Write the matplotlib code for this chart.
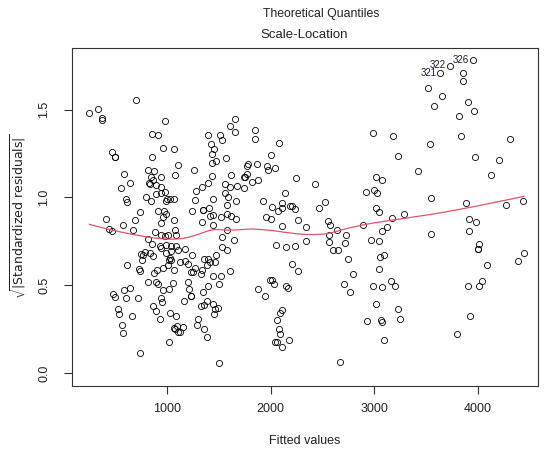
import numpy as np
import matplotlib
matplotlib.use("Agg")
import matplotlib.pyplot as plt

plt.rcParams['font.family'] = ['Liberation Sans', 'DejaVu Sans']

# fitted values and sqrt(|standardized residuals|)
fitted = [
    700, 248, 329, 368, 368, 981, 852, 907, 1397, 961,
    1068, 468, 494, 500, 852, 1100, 581, 810, 868, 1074,
    1262, 839, 942, 861, 558, 639, 826, 836, 887, 939,
    942, 1397, 1333, 1274, 894, 797, 845, 974, 597, 616,
    994, 1023, 1068, 987, 1268, 1349, 1404,
    406, 435, 465, 571, 684, 668, 739, 910, 965, 984,
    955, 942, 1242, 1349, 1413, 1336, 1068, 1078, 878, 942,
    974, 1007, 1087, 813, 852, 929, 942, 984, 1039, 1081,
    1103, 1168, 1032, 991, 781, 748, 765, 829, 861, 755,
    1026, 1013, 1039, 1242, 1394, 1355, 1410, 1381, 1123, 1174,
    1203, 1271, 1229, 1252, 1339, 1329, 613, 726, 736, 868,
    897, 955, 1007, 1062, 813, 890, 910, 1055, 961, 1016,
    1200, 1213, 1391, 477, 497, 581, 645, 600, 716, 942,
    952, 1162, 1226, 1233, 1342, 1381, 1329, 1355, 858, 887,
    929, 1026, 1084, 523, 536, 658, 1297, 1291, 1355, 1387,
    565, 574, 1065, 1071, 1091, 1107, 1123, 1149, 1013, 739,
    1658, 1610, 1652, 1510, 1532, 1849, 1849, 2081, 1426, 1449,
    1432, 1468, 1436, 1571, 2007, 1775, 1781, 1865, 1962, 1978,
    2039, 1432, 1620, 1739, 1749, 1775, 1820, 1881, 2246, 2430,
    1558, 1610, 1678, 1739, 1555, 1587, 1665, 1442, 2142, 1929,
    1581, 2017, 2104, 2110, 2188, 2210, 2230, 2465, 2523,
    1442, 1523, 1581, 1613, 1668, 1442, 1581, 1532, 1642, 1532,
    1578, 1474, 1458, 1516, 1442, 1603, 1497, 1958, 2000, 2071,
    2104, 2262, 2342, 2055, 2149, 2239, 2342, 2555, 2572, 2643,
    2730, 2720, 2562, 2559, 2604, 2652, 2749, 2791, 2710, 2768,
    2207, 2262, 1994, 2013, 2033, 1875, 1942, 2149, 2162, 1442,
    1458, 1491, 1452, 2110, 2091, 2062, 2081, 2094, 2046, 2058,
    2113, 2181, 1500, 2672,
    3953, 3733, 3640, 3853, 3853, 3523, 3656, 3582, 3901, 3966,
    3820, 2991, 3178, 3536, 3836, 4314, 3227, 3975, 4208, 3420,
    4124, 3020, 3072, 2917, 2997, 3023, 3552, 3885, 4272, 4440,
    3014,
    3046, 3168, 3291, 3911, 3982, 3911, 3078, 3126, 3552, 2965,
    3049, 4011, 4004, 4007, 4446, 4391, 4085, 3055, 3094, 3046,
    3159, 2991, 3078, 3204, 3901, 4011, 4037, 3014, 3233, 2933,
    3062, 3072, 3252, 3924, 3801, 3094, 2888,
]
sqrt_std_resid = [
    1.552, 1.480, 1.501, 1.452, 1.440, 1.433, 1.363, 1.353, 1.357, 1.280,
    1.274, 1.257, 1.232, 1.229, 1.232, 1.185, 1.134, 1.155, 1.149, 1.127,
    1.153, 1.113, 1.113, 1.098, 1.053, 1.079, 1.079, 1.076, 1.068, 1.057,
    1.023, 1.081, 1.060, 1.038, 1.019, 1.004, 0.981, 1.032, 0.990, 0.972,
    0.989, 0.991, 0.991, 0.981, 0.985, 0.930, 0.941,
    0.878, 0.819, 0.810, 0.842, 0.869, 0.816, 0.914, 0.923, 0.920, 0.906,
    0.887, 0.853, 0.920, 0.929, 0.895, 0.857, 0.869, 0.816, 0.800, 0.787,
    0.778, 0.783, 0.783, 0.763, 0.732, 0.721, 0.712, 0.729, 0.721, 0.725,
    0.698, 0.708, 0.693, 0.683, 0.687, 0.679, 0.670, 0.683, 0.664, 0.645,
    0.655, 0.645, 0.642, 0.674, 0.649, 0.649, 0.630, 0.617, 0.632, 0.636,
    0.621, 0.600, 0.574, 0.574, 0.589, 0.564, 0.615, 0.593, 0.581, 0.568,
    0.589, 0.600, 0.617, 0.589, 0.519, 0.517, 0.509, 0.513, 0.470, 0.481,
    0.517, 0.481, 0.498, 0.447, 0.434, 0.470, 0.483, 0.428, 0.428, 0.428,
    0.404, 0.409, 0.439, 0.438, 0.460, 0.411, 0.381, 0.387, 0.381, 0.353,
    0.309, 0.341, 0.322, 0.362, 0.334, 0.324, 0.305, 0.275, 0.252, 0.203,
    0.271, 0.228, 0.256, 0.249, 0.268, 0.233, 0.231, 0.262, 0.177, 0.113,
    1.446, 1.404, 1.372, 1.353, 1.329, 1.382, 1.331, 1.312, 1.306, 1.274,
    1.249, 1.208, 1.197, 1.223, 1.242, 1.181, 1.187, 1.191, 1.181, 1.157,
    1.166, 1.121, 1.128, 1.117, 1.113, 1.134, 1.087, 1.100, 1.111, 1.077,
    1.074, 1.059, 1.066, 1.055, 1.026, 1.004, 0.981, 0.992, 1.023, 0.981,
    0.958, 0.947, 0.966, 0.937, 0.951, 0.951, 0.932, 0.941, 0.972,
    0.897, 0.887, 0.906, 0.891, 0.876, 0.844, 0.816, 0.772, 0.759, 0.717,
    0.702, 0.670, 0.630, 0.551, 0.551, 0.583, 0.504, 0.887, 0.876, 0.920,
    0.835, 0.869, 0.829, 0.727, 0.715, 0.721, 0.749, 0.863, 0.840, 0.812,
    0.783, 0.740, 0.783, 0.746, 0.702, 0.702, 0.651, 0.564, 0.508, 0.462,
    0.621, 0.583, 0.528, 0.532, 0.508, 0.481, 0.438, 0.496, 0.483, 0.390,
    0.366, 0.371, 0.337, 0.358, 0.339, 0.303, 0.249, 0.224, 0.179, 0.177,
    0.150, 0.186, 0.056, 0.065,
    1.782, 1.750, 1.707, 1.709, 1.665, 1.624, 1.576, 1.520, 1.544, 1.489,
    1.465, 1.367, 1.348, 1.306, 1.348, 1.331, 1.236, 1.232, 1.215, 1.149,
    1.130, 1.117, 1.098, 1.028, 1.042, 1.023, 0.996, 0.968, 0.958, 0.981,
    0.941,
    0.916, 0.880, 0.903, 0.874, 0.857, 0.810, 0.806, 0.829, 0.791, 0.759,
    0.749, 0.736, 0.706, 0.704, 0.685, 0.638, 0.613, 0.661, 0.670, 0.591,
    0.526, 0.498, 0.492, 0.498, 0.498, 0.498, 0.521, 0.390, 0.364, 0.294,
    0.303, 0.292, 0.307, 0.322, 0.220, 0.186, 0.844,
]
# the three most extreme observations, labelled by row number
outlier_ids = ['326', '322', '321']
outlier_idx = [270, 271, 272]

x = np.array(fitted, dtype=float)
y = np.array(sqrt_std_resid)


def lowess(x, y, f=2/3, iters=3):
    # plain lowess, same defaults as R's lowess()
    o = np.argsort(x)
    xs, ys = x[o], y[o]
    n = len(xs)
    r = int(np.ceil(f * n))
    rob = np.ones(n)
    fit = np.zeros(n)
    for _ in range(iters + 1):
        for i in range(n):
            d = np.abs(xs - xs[i])
            h = np.sort(d)[r - 1]
            w = np.clip(d / h, 0, 1)
            w = (1 - w ** 3) ** 3 * rob
            sw = w.sum()
            mx = (w * xs).sum() / sw
            my = (w * ys).sum() / sw
            sxx = (w * (xs - mx) ** 2).sum()
            b = (w * (xs - mx) * (ys - my)).sum() / sxx if sxx > 0 else 0
            fit[i] = my + b * (xs[i] - mx)
        res = ys - fit
        s = np.median(np.abs(res))
        u = np.clip(res / (6 * s), -1, 1)
        rob = (1 - u ** 2) ** 2
    return xs, fit


W, H = 544, 453
fig = plt.figure(figsize=(W / 100, H / 100), dpi=100)
ax = fig.add_axes([72 / W, 1 - 386 / H, (538 - 72) / W, (386 - 47.5) / H])

ax.plot(x, y, 'o', mfc='none', mec='black', ms=4.4, mew=0.6)
lx, ly = lowess(x, y)
ax.plot(lx, ly, color='#DF536B', lw=0.9)

for lab, i in zip(outlier_ids, outlier_idx):
    ax.annotate(lab, (x[i], y[i]), xytext=(-3.0, 0.3), textcoords='offset points',
                ha='right', va='center', fontsize=7, color='#1a1a2e')

ax.set_xlim(80, 4582)
ax.set_ylim(-0.074, 1.853)
ax.set_xticks([1000, 2000, 3000, 4000])
ax.set_yticks([0.0, 0.5, 1.0, 1.5])
ax.set_yticklabels(['0.0', '0.5', '1.0', '1.5'], rotation=90, va='center')
ax.tick_params(direction='out', length=5.5, width=0.8, colors='#333333',
               labelsize=9, labelcolor='#222222')
ax.tick_params(axis='x', pad=7)
ax.tick_params(axis='y', pad=10)
for s in ax.spines.values():
    s.set_linewidth(0.8)
    s.set_color('#333333')

fig.text(321 / W, 1 - 14 / H, 'Theoretical Quantiles', ha='center', va='center',
         fontsize=8.8, color='#222222')
fig.text(304 / W, 1 - 35 / H, 'Scale-Location', ha='center', va='center',
         fontsize=9.5, color='#222222')
fig.text(305 / W, 1 - 441 / H, 'Fitted values', ha='center', va='center',
         fontsize=9, color='#222222')
fig.text(18 / W, 1 - 216 / H, r'$\sqrt{|\mathrm{Standardized\ residuals}|}$',
         ha='center', va='center', rotation=90, fontsize=9, color='#222222')

fig.savefig('out.png', dpi=100)
